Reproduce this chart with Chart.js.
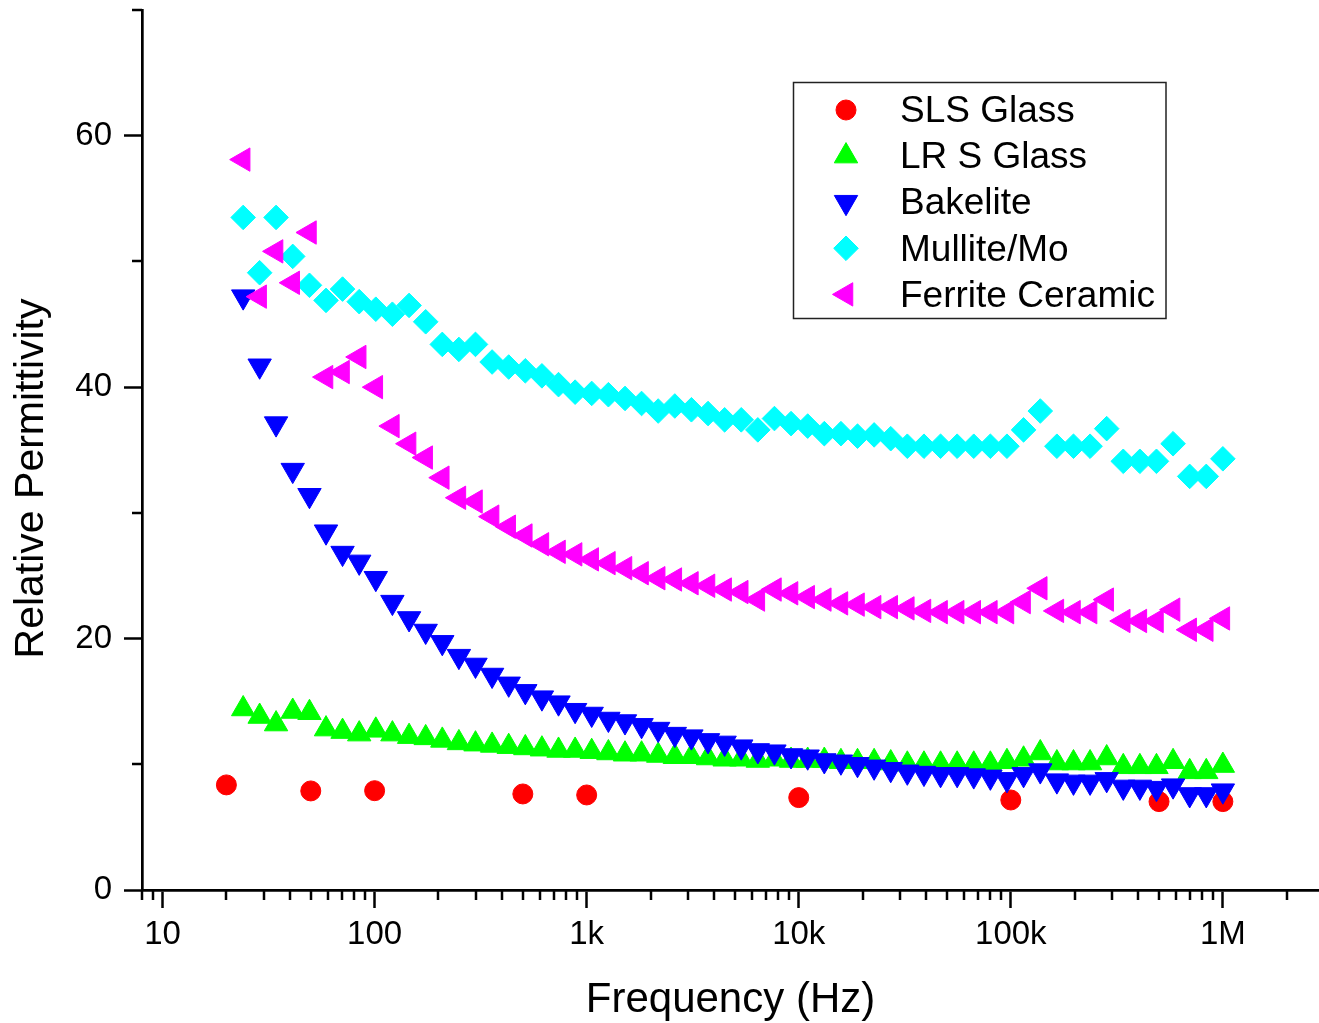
<!DOCTYPE html>
<html>
<head>
<meta charset="utf-8">
<title>Relative Permittivity vs Frequency</title>
<script src="https://cdn.jsdelivr.net/npm/chart.js@4/dist/chart.umd.min.js"></script>
<style>
  html, body { margin: 0; padding: 0; background: #ffffff; }
  #wrap { width: 1319px; height: 1023px; position: relative; }
  canvas { display: block; }
</style>
</head>
<body>
<div id="wrap"><canvas id="chart" width="1319" height="1023"></canvas></div>
<script>
// Sweep frequencies (Hz) shared by the swept samples
const frequencies = [24, 28.7, 34.3, 41.1, 49.3, 59, 70.6, 84.6, 101.3, 121.3,
  145.4, 174.1, 208.5, 249.7, 299, 358.1, 428.9, 513.6, 615.1, 736.6,
  882, 1056, 1266, 1516, 1815, 2174, 2604, 3118, 3734, 4472,
  5356, 6414, 7681, 9198, 11020, 13200, 15810, 18930, 22670, 27150,
  32510, 38950, 46640, 55850, 66880, 80090, 95900, 114860, 137700, 164900,
  197500, 236500, 283200, 339100, 406100, 486300, 582400, 697400, 835100, 1000000];

// Spot frequencies (Hz) for the soda-lime-silica glass
const slsFrequencies = [20, 50, 100, 500, 1000, 10000, 100000, 500000, 1000000];
const slsGlass = [8.36, 7.88, 7.9, 7.64, 7.56, 7.35, 7.16, 7.03, 7.03];

const lrsGlass = [14.4, 13.8, 13.2, 14.2, 14.1, 12.8, 12.6, 12.4, 12.7, 12.4,
  12.2, 12.1, 11.9, 11.7, 11.6, 11.5, 11.4, 11.3, 11.2, 11.1,
  11.1, 11.0, 10.9, 10.8, 10.8, 10.7, 10.6, 10.6, 10.5, 10.4,
  10.4, 10.3, 10.4, 10.3, 10.3, 10.3, 10.2, 10.2, 10.2, 10.1,
  10.0, 10.0, 10.0, 10.0, 10.0, 10.0, 10.2, 10.4, 10.9, 10.1,
  10.1, 10.1, 10.5, 9.8, 9.8, 9.8, 10.2, 9.4, 9.4, 9.9];

const bakelite = [47.2, 41.7, 37.1, 33.4, 31.4, 28.5, 26.8, 26.1, 24.8, 22.9,
  21.6, 20.6, 19.7, 18.6, 17.9, 17.1, 16.4, 15.8, 15.3, 14.9,
  14.3, 14.0, 13.6, 13.4, 13.1, 12.8, 12.4, 12.2, 11.9, 11.7,
  11.4, 11.1, 11.0, 10.7, 10.6, 10.3, 10.2, 10.0, 9.8, 9.6,
  9.4, 9.3, 9.2, 9.2, 9.1, 9.0, 8.8, 9.2, 9.5, 8.7,
  8.6, 8.6, 8.8, 8.2, 8.2, 8.1, 8.3, 7.6, 7.6, 7.9];

const mulliteMo = [53.5, 49.1, 53.5, 50.4, 48.1, 46.9, 47.8, 46.8, 46.2, 45.8,
  46.5, 45.2, 43.4, 43.0, 43.4, 42.0, 41.6, 41.3, 40.9, 40.2,
  39.6, 39.5, 39.4, 39.1, 38.7, 38.1, 38.5, 38.2, 37.9, 37.4,
  37.4, 36.6, 37.5, 37.1, 36.9, 36.3, 36.3, 36.1, 36.2, 35.9,
  35.3, 35.3, 35.3, 35.3, 35.3, 35.3, 35.3, 36.6, 38.1, 35.3,
  35.3, 35.3, 36.7, 34.1, 34.1, 34.1, 35.5, 32.9, 32.9, 34.3];

const ferriteCeramic = [58.1, 47.2, 50.8, 48.3, 52.3, 40.8, 41.2, 42.4, 40.0, 36.9,
  35.5, 34.4, 32.8, 31.2, 30.9, 29.7, 28.9, 28.2, 27.5, 26.9,
  26.7, 26.3, 26.0, 25.6, 25.2, 24.8, 24.7, 24.4, 24.2, 23.9,
  23.7, 23.1, 23.9, 23.6, 23.3, 23.1, 22.8, 22.7, 22.5, 22.5,
  22.4, 22.2, 22.1, 22.1, 22.1, 22.1, 22.1, 22.9, 24.0, 22.2,
  22.1, 22.1, 23.1, 21.4, 21.4, 21.4, 22.3, 20.7, 20.7, 21.6];

const seriesNames = ['SLS Glass', 'LR S Glass', 'Bakelite', 'Mullite/Mo', 'Ferrite Ceramic'];

// Labelled axis ticks
const xTickValues = [10, 100, 1000, 10000, 100000, 1000000];
const xTickLabels = ['10', '100', '1k', '10k', '100k', '1M'];
const yTickValues = [0, 20, 40, 60];
const yTickLabels = ['0', '20', '40', '60'];

const xTitle = 'Frequency (Hz)';
const yTitle = 'Relative Permittivity';

const FONT = "'Liberation Sans', Arial, Helvetica, sans-serif";

function pairs(xs, ys) {
  return ys.map((y, i) => ({ x: xs[i], y: y }));
}

// Every log-decade subdivision from 8 Hz to 2 MHz (tick marks only)
function logTickValues() {
  const vals = [8, 9];
  for (let e = 1; e <= 6; e++) {
    for (let m = 1; m <= 9; m++) {
      const v = m * Math.pow(10, e);
      if (v <= 2000000) vals.push(v);
    }
  }
  return vals;
}

function markerDataset(label, data, color, style, radius, rotation, order) {
  return {
    label: label,
    data: data,
    showLine: false,
    pointStyle: style,
    pointRadius: radius,
    pointHoverRadius: radius,
    pointRotation: rotation,
    pointBackgroundColor: color,
    pointBorderColor: color,
    pointBorderWidth: 1,
    backgroundColor: color,
    borderColor: color,
    clip: false,
    order: order
  };
}

// Short tick marks for the unlabelled subdivisions
const minorTicks = {
  id: 'minorTicks',
  afterDraw(chart) {
    const { ctx, chartArea } = chart;
    const xs = chart.scales.x;
    const ys = chart.scales.y;
    ctx.save();
    ctx.strokeStyle = '#000000';
    ctx.lineWidth = 2.5;
    ctx.beginPath();
    xs.ticks.forEach(t => {
      if (xTickValues.includes(t.value)) return;
      const px = Math.round(xs.getPixelForValue(t.value));
      ctx.moveTo(px, chartArea.bottom);
      ctx.lineTo(px, chartArea.bottom + 10);
    });
    ys.ticks.forEach(t => {
      if (yTickValues.includes(t.value)) return;
      const py = Math.round(ys.getPixelForValue(t.value));
      ctx.moveTo(chartArea.left, py);
      ctx.lineTo(chartArea.left - 10, py);
    });
    ctx.stroke();
    ctx.restore();
  }
};

function markerPath(ctx, style, rotation, r, x, y) {
  ctx.beginPath();
  if (style === 'circle') {
    ctx.arc(x, y, r, 0, Math.PI * 2);
  } else if (style === 'rectRot') {
    ctx.moveTo(x - r, y);
    ctx.lineTo(x, y - r);
    ctx.lineTo(x + r, y);
    ctx.lineTo(x, y + r);
  } else {
    let a = rotation * Math.PI / 180;
    ctx.moveTo(x + Math.sin(a) * r, y - Math.cos(a) * r);
    a += 2 * Math.PI / 3;
    ctx.lineTo(x + Math.sin(a) * r, y - Math.cos(a) * r);
    a += 2 * Math.PI / 3;
    ctx.lineTo(x + Math.sin(a) * r, y - Math.cos(a) * r);
  }
  ctx.closePath();
}

// Framed legend inside the plot
const boxLegend = {
  id: 'boxLegend',
  afterDraw(chart, args, opts) {
    const { ctx } = chart;
    ctx.save();
    ctx.fillStyle = '#ffffff';
    ctx.fillRect(opts.left, opts.top, opts.width, opts.height);
    ctx.lineWidth = 1.5;
    ctx.strokeStyle = '#222222';
    ctx.strokeRect(opts.left, opts.top, opts.width, opts.height);
    chart.data.datasets.forEach((ds, i) => {
      const y = opts.firstRow + i * opts.rowGap;
      markerPath(ctx, ds.pointStyle, ds.pointRotation || 0, ds.pointRadius, opts.markerX, y);
      ctx.fillStyle = ds.pointBackgroundColor;
      ctx.strokeStyle = ds.pointBorderColor;
      ctx.lineWidth = 1;
      ctx.fill();
      ctx.stroke();
      ctx.fillStyle = '#000000';
      ctx.font = opts.fontSize + 'px ' + FONT;
      ctx.textAlign = 'left';
      ctx.textBaseline = 'middle';
      ctx.fillText(ds.label, opts.textX, y + 2);
    });
    ctx.restore();
  }
};

const xTicks = logTickValues();

new Chart(document.getElementById('chart'), {
  type: 'scatter',
  data: {
    datasets: [
      markerDataset(seriesNames[0], pairs(slsFrequencies, slsGlass), '#ff0000', 'circle', 10, 0, 4),
      markerDataset(seriesNames[1], pairs(frequencies, lrsGlass), '#00ff00', 'triangle', 13.5, 0, 3),
      markerDataset(seriesNames[2], pairs(frequencies, bakelite), '#0000ff', 'triangle', 13.5, 180, 2),
      markerDataset(seriesNames[3], pairs(frequencies, mulliteMo), '#00ffff', 'rectRot', 12.3, 0, 1),
      markerDataset(seriesNames[4], pairs(frequencies, ferriteCeramic), '#ff00ff', 'triangle', 13.5, 270, 0)
    ]
  },
  options: {
    responsive: false,
    animation: false,
    devicePixelRatio: 1,
    layout: { autoPadding: false, padding: { top: 10, right: 0, bottom: 0, left: 0 } },
    plugins: {
      legend: { display: false },
      tooltip: { enabled: false },
      boxLegend: {
        left: 793.5, top: 82.5, width: 372.5, height: 236,
        firstRow: 110, rowGap: 46.1, markerX: 846, textX: 900, fontSize: 37
      }
    },
    scales: {
      x: {
        type: 'logarithmic',
        min: 8,
        max: 2840000,
        afterBuildTicks(scale) {
          scale.ticks = xTicks.map(v => ({ value: v, major: xTickValues.includes(v) }));
        },
        afterFit(scale) {
          scale.height = 133;
          scale.paddingLeft = 0;
          scale.paddingRight = 0;
        },
        border: { display: true, color: '#000000', width: 2.7 },
        grid: {
          display: true,
          drawOnChartArea: false,
          drawTicks: true,
          tickLength: 18,
          tickWidth: 2.5,
          tickColor: (c) => (c.tick && xTickValues.includes(c.tick.value)) ? '#000000' : 'rgba(0,0,0,0)'
        },
        ticks: {
          autoSkip: false,
          maxRotation: 0,
          minRotation: 0,
          padding: 7.5,
          color: '#000000',
          font: { family: FONT, size: 33, lineHeight: 1.2 },
          callback: (value) => {
            const i = xTickValues.indexOf(value);
            return i >= 0 ? xTickLabels[i] : '';
          }
        },
        title: {
          display: true,
          text: xTitle,
          color: '#000000',
          font: { family: FONT, size: 42, lineHeight: 1 },
          padding: { top: 0, bottom: 1.5 }
        }
      },
      y: {
        type: 'linear',
        min: 0,
        max: 70,
        afterFit(scale) {
          scale.width = 142;
          scale.paddingTop = 0;
          scale.paddingBottom = 0;
        },
        border: { display: true, color: '#000000', width: 2.7 },
        grid: {
          display: true,
          drawOnChartArea: false,
          drawTicks: true,
          tickLength: 18,
          tickWidth: 2.5,
          tickColor: (c) => (c.tick && yTickValues.includes(c.tick.value)) ? '#000000' : 'rgba(0,0,0,0)'
        },
        ticks: {
          stepSize: 10,
          autoSkip: false,
          padding: 12,
          color: '#000000',
          font: { family: FONT, size: 33, lineHeight: 1.2 },
          callback: (value) => {
            const i = yTickValues.indexOf(value);
            return i >= 0 ? yTickLabels[i] : '';
          }
        },
        title: {
          display: true,
          text: yTitle + '     ',
          color: '#000000',
          font: { family: FONT, size: 41, lineHeight: 1 },
          padding: { top: 11.3, bottom: 0 }
        }
      }
    }
  },
  plugins: [minorTicks, boxLegend]
});
</script>
</body>
</html>
